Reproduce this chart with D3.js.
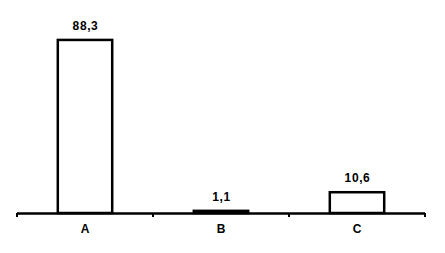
<!DOCTYPE html>
<html><head><meta charset="utf-8">
<script src="https://cdn.jsdelivr.net/npm/d3@7"></script>
<style>html,body{margin:0;padding:0;background:#fff;}</style>
</head><body><svg id="c" width="445" height="253"></svg>
<script>
const categories = ["A", "B", "C"];
const values = [88.3, 1.1, 10.6];
const valueLabels = ["88,3", "1,1", "10,6"];

const svg = d3.select("#c");
const x = d3.scaleBand().domain(categories).range([17, 425]).paddingInner(0.6).paddingOuter(0.3);
const y = d3.scaleLinear().domain([0, 100]).range([213, 17]);

svg.selectAll("rect.bar").data(values).enter().append("rect")
  .attr("class", "bar")
  .attr("x", (d, i) => x(categories[i]))
  .attr("width", x.bandwidth())
  .attr("y", d => y(d))
  .attr("height", d => y(0) - y(d))
  .attr("fill", "#fff").attr("stroke", "#000").attr("stroke-width", 2.5);

svg.selectAll("text.val").data(values).enter().append("text")
  .attr("x", (d, i) => x(categories[i]) + x.bandwidth() / 2 + 0.5)
  .attr("y", d => y(d) - 10)
  .attr("text-anchor", "middle")
  .attr("font-family", "Liberation Sans, Arial, sans-serif")
  .attr("font-weight", "bold").attr("font-size", 12)
  .attr("letter-spacing", 0.6)
  .text((d, i) => valueLabels[i]);

// axis
const edges = [17].concat(categories.map(c => x(c) + x.bandwidth() / 2 + x.step() / 2));
svg.append("line").attr("x1", 17).attr("x2", 425).attr("y1", y(0) + 0.5).attr("y2", y(0) + 0.5)
  .attr("stroke", "#000").attr("stroke-width", 2.5);
svg.selectAll("line.tick").data(edges).enter().append("line")
  .attr("x1", d => d).attr("x2", d => d).attr("y1", y(0)).attr("y2", y(0) + 4)
  .attr("stroke", "#000").attr("stroke-width", 2);
svg.selectAll("text.cat").data(categories).enter().append("text")
  .attr("x", d => x(d) + x.bandwidth() / 2)
  .attr("y", 233)
  .attr("text-anchor", "middle")
  .attr("font-family", "Liberation Sans, Arial, sans-serif")
  .attr("font-weight", "bold")
  .attr("font-size", 12)
  .text(d => d);
</script></body></html>
